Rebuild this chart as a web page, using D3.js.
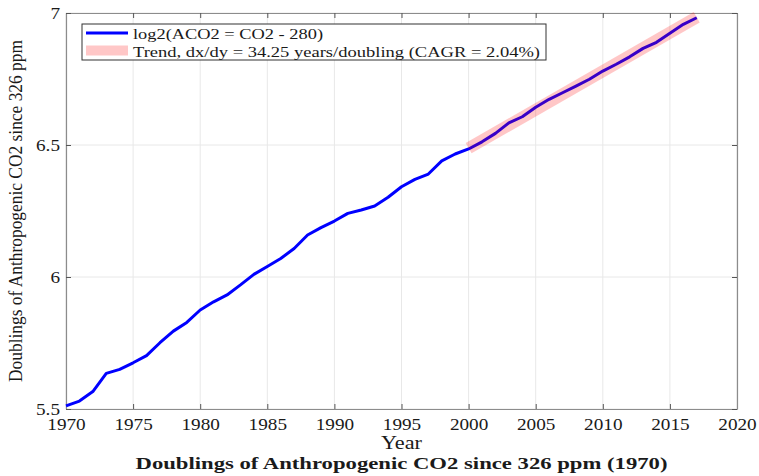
<!DOCTYPE html>
<html>
<head>
<meta charset="utf-8">
<script src="https://cdn.jsdelivr.net/npm/d3@7"></script>
<style>
  body { margin: 0; background: #fff; }
  svg { display: block; }
  text { font-family: "Liberation Serif", "Times New Roman", serif; fill: #1a1a1a; }
</style>
</head>
<body>
<svg class="chart"></svg>
<script>
// yearly values
var years = [1970,1971,1972,1973,1974,1975,1976,1977,1978,1979,
             1980,1981,1982,1983,1984,1985,1986,1987,1988,1989,
             1990,1991,1992,1993,1994,1995,1996,1997,1998,1999,
             2000,2001,2002,2003,2004,2005,2006,2007,2008,2009,
             2010,2011,2012,2013,2014,2015,2016,2017];
var doublings = [5.512,5.530,5.566,5.635,5.650,5.675,5.702,5.751,5.795,5.828,
                 5.875,5.906,5.932,5.970,6.010,6.040,6.070,6.108,6.159,6.187,
                 6.212,6.241,6.254,6.269,6.302,6.342,6.370,6.390,6.440,6.466,
                 6.485,6.512,6.544,6.584,6.607,6.643,6.673,6.698,6.723,6.749,
                 6.780,6.806,6.834,6.866,6.889,6.923,6.957,6.982];
var trendYears = [2000, 2017];
var trendValues = [6.488, 6.984];
var xTicks = [1970,1975,1980,1985,1990,1995,2000,2005,2010,2015,2020];
var yTicks = [5.5, 6, 6.5, 7];
var legendLabels = ["log2(ACO2 = CO2 - 280)", "Trend, dx/dy = 34.25 years/doubling (CAGR = 2.04%)"];

var W = 759, H = 476;
var margin = {top: 13, right: 22, bottom: 67, left: 66},
    width = W - margin.left - margin.right,
    height = H - margin.top - margin.bottom;
var stretch = 1.2; // the picture's text is wider than it is tall

var chart = d3.select(".chart").attr("width", W).attr("height", H);
var g = chart.append("g").attr("transform", "translate(" + margin.left + "," + margin.top + ")");

var x = d3.scaleLinear().domain([1970, 2020]).range([0, width]);
var y = d3.scaleLinear().domain([5.5, 7]).range([height, 0]);

// widen a text horizontally, by the stretch factor or to a set length
function widen(sel, len) {
  sel.each(function(){
    var l = len || this.getComputedTextLength() * stretch;
    d3.select(this).attr("textLength", l).attr("lengthAdjust", "spacingAndGlyphs");
  });
}

// grid
g.append("g").selectAll("line").data(xTicks).enter().append("line")
  .attr("x1", d => x(d)).attr("x2", d => x(d)).attr("y1", 0).attr("y2", height)
  .attr("stroke", "#e8e8e8").attr("stroke-width", 1);
g.append("g").selectAll("line").data(yTicks).enter().append("line")
  .attr("y1", d => y(d)).attr("y2", d => y(d)).attr("x1", 0).attr("x2", width)
  .attr("stroke", "#e8e8e8").attr("stroke-width", 1);

// axes (ticks pointing inward, box on)
var xAxis = g.append("g").attr("class", "axis x")
  .attr("transform", "translate(0," + height + ")")
  .call(d3.axisBottom(x).tickValues(xTicks).tickFormat(d3.format("d")).tickSizeInner(-5).tickSizeOuter(0).tickPadding(10));
var xTop = g.append("g").call(d3.axisTop(x).tickValues(xTicks).tickFormat("").tickSizeInner(-5).tickSizeOuter(0));
var yAxis = g.append("g").attr("class", "axis y")
  .call(d3.axisLeft(y).tickValues(yTicks).tickFormat(d3.format("")).tickSizeInner(-5).tickSizeOuter(0).tickPadding(6));
var yRight = g.append("g").attr("transform", "translate(" + width + ",0)")
  .call(d3.axisRight(y).tickValues(yTicks).tickFormat("").tickSizeInner(-5).tickSizeOuter(0));

[xAxis, xTop, yAxis, yRight].forEach(function(a){
  a.select(".domain").attr("stroke", "#8c8c8c").attr("stroke-width", 1.2);
  a.selectAll(".tick line").attr("stroke", "#555");
  a.selectAll("text").attr("font-size", 16).attr("fill", "#262626")
    .attr("font-family", "Liberation Serif, Times New Roman, serif");
});
widen(xAxis.selectAll("text"));
widen(yAxis.selectAll("text"));

// data line
var line = d3.line().x((d, i) => x(years[i])).y(d => y(d));
g.append("path").datum(doublings)
  .attr("d", line).attr("fill", "none")
  .attr("stroke", "#0000ff").attr("stroke-width", 3).attr("stroke-linejoin", "round");

// trend band, drawn on top with transparency
g.append("path").datum(trendValues)
  .attr("d", d3.line().x((d, i) => x(trendYears[i])).y(d => y(d)))
  .attr("fill", "none").attr("stroke", "#ff0000").attr("stroke-opacity", 0.22)
  .attr("stroke-width", 12);

// legend
var lg = chart.append("g").attr("transform", "translate(82,24)");
lg.append("rect").attr("width", 464).attr("height", 36)
  .attr("fill", "#fff").attr("stroke", "#333").attr("stroke-width", 1);
lg.append("line").attr("x1", 4).attr("x2", 46).attr("y1", 9).attr("y2", 9)
  .attr("stroke", "#0000ff").attr("stroke-width", 3);
lg.append("rect").attr("x", 4).attr("y", 21.5).attr("width", 42).attr("height", 10)
  .attr("fill", "#ff0000").attr("fill-opacity", 0.22);
var legendLen = [190, 407];
lg.selectAll("text.lab").data(legendLabels).enter().append("text")
  .attr("class", "lab")
  .attr("x", 51).attr("y", (d, i) => 15 + i * 17.5)
  .attr("font-size", 15)
  .attr("textLength", (d, i) => legendLen[i]).attr("lengthAdjust", "spacingAndGlyphs")
  .text(d => d);

// axis labels and title
var xl = chart.append("text")
  .attr("x", margin.left + width / 2).attr("y", 449)
  .attr("text-anchor", "middle").attr("font-size", 18).text("Year");
widen(xl, 41);
var yl = chart.append("text")
  .attr("transform", "translate(22," + (margin.top + height / 2) + ") scale(" + stretch + ",1) rotate(-90)")
  .attr("text-anchor", "middle").attr("font-size", 16.4)
  .text("Doublings of Anthropogenic CO2 since 326 ppm");
widen(yl, 342);
var tl = chart.append("text")
  .attr("x", margin.left + width / 2).attr("y", 469)
  .attr("text-anchor", "middle").attr("font-size", 17.5).attr("font-weight", "bold")
  .text("Doublings of Anthropogenic CO2 since 326 ppm (1970)");
widen(tl, 532);
</script>
</body>
</html>
